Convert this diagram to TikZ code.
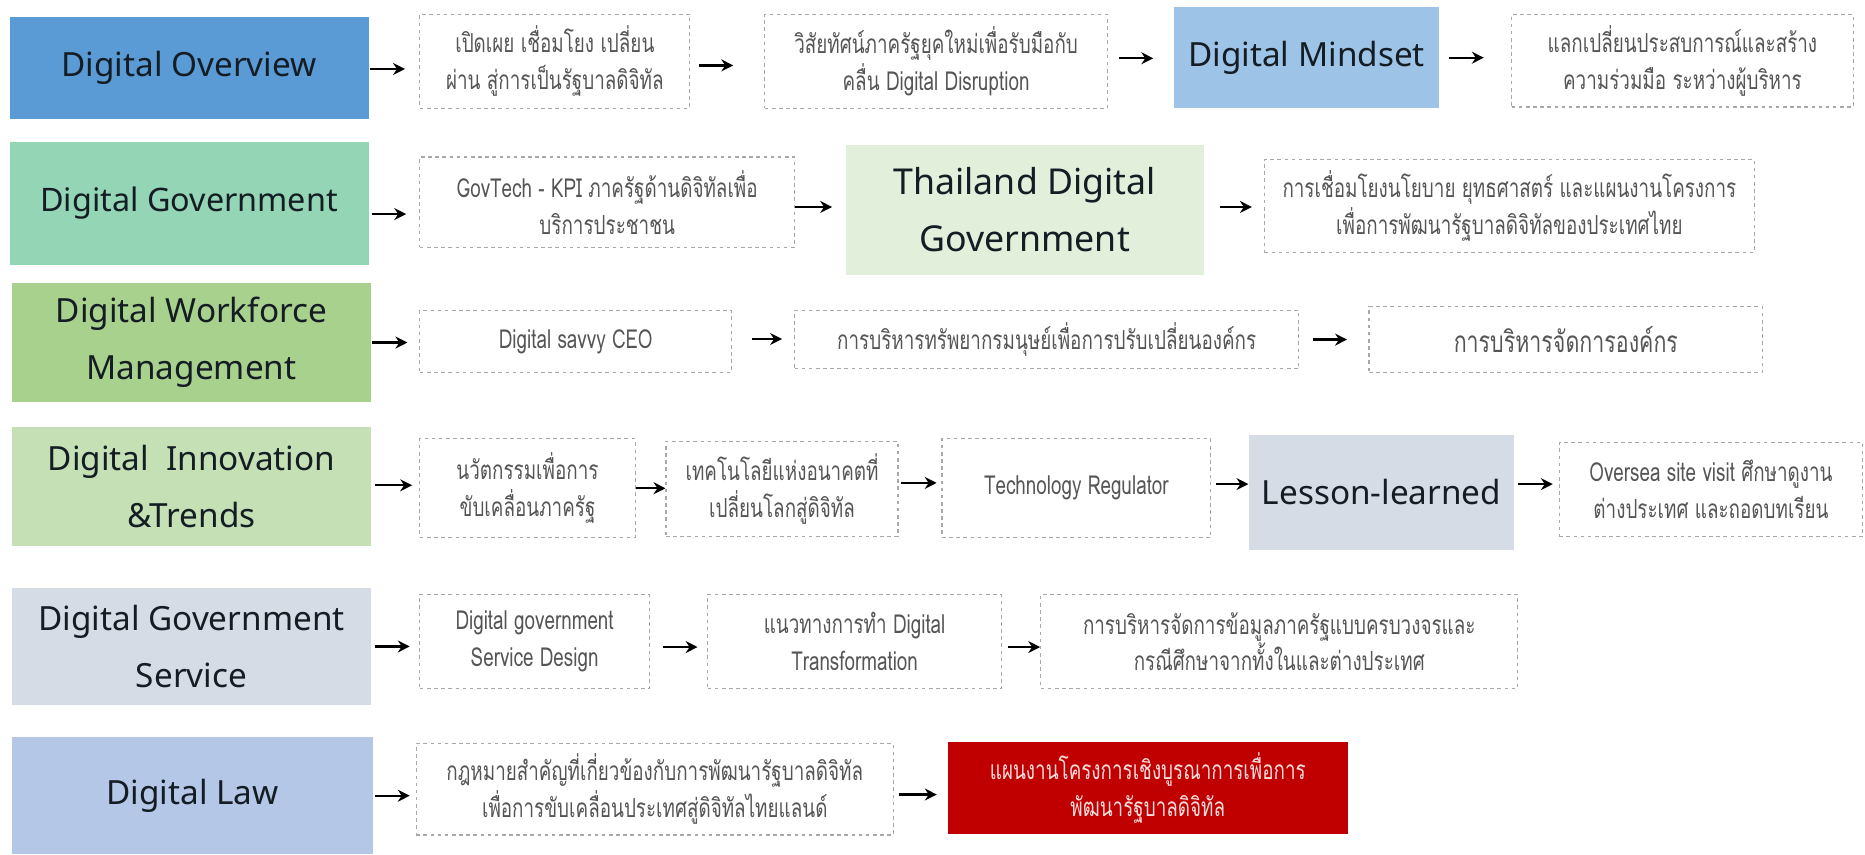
\documentclass[tikz,border=0pt]{standalone}
\usepackage{fontspec}
\setmainfont{Noto Sans}
\newfontfamily\thaifont[Script=Thai,FakeStretch=0.72]{Loma}
\usetikzlibrary{arrows.meta}
\definecolor{ovfill}{HTML}{5B9BD5}
\definecolor{mindfill}{HTML}{9DC3E6}
\definecolor{govfill}{HTML}{93D5B5}
\definecolor{tdgfill}{HTML}{E2EFDA}
\definecolor{wffill}{HTML}{A9D18E}
\definecolor{innfill}{HTML}{C5E0B4}
\definecolor{lesfill}{HTML}{D6DCE5}
\definecolor{lawfill}{HTML}{B4C7E7}
\definecolor{redfill}{HTML}{C00000}
\definecolor{catink}{HTML}{141C24}
\definecolor{dgray}{HTML}{A8A8A8}
\definecolor{tgray}{HTML}{555555}
\definecolor{redink}{HTML}{F8DDDD}
\tikzset{
  cat/.style={rectangle, inner sep=0pt, align=center, text=catink, font=\fontsize{14}{24}\selectfont},
  dbox/.style={rectangle, draw=dgray, line width=0.5pt, dash pattern=on 1.5pt off 1.5pt, inner sep=0pt, align=center, text=tgray, font=\thaifont\fontsize{11}{15.5}\selectfont},
  arr/.style={-{Stealth[length=5pt,width=5pt]}, line width=1pt, black},
}
\newcommand\ar[5]{\draw[arr, shorten <=#3, shorten >=#4] ([yshift=#5]#1.east) -- ([yshift=#5]#1.east -| #2.west);}
\begin{document}
\begin{tikzpicture}[x=0.5pt,y=-0.5pt]
\useasboundingbox (0,0) rectangle (1568,718);
% row 1
\node[cat, fill=ovfill, minimum width=151pt, minimum height=43pt] (ov) at (159,57) {Digital Overview};
\node[dbox, minimum width=113.5pt, minimum height=39.5pt] (a1) at (466.5,51.5) {เปิดเผย เชื่อมโยง เปลี่ยน\\ผ่าน สู่การเป็นรัฐบาลดิจิทัล};
\node[dbox, minimum width=144pt, minimum height=39.5pt] (a2) at (787,51.5) {วิสัยทัศน์ภาครัฐยุคใหม่เพื่อรับมือกับ\\คลื่น Digital Disruption};
\node[cat, fill=mindfill, minimum width=111.5pt, minimum height=42.5pt] (mind) at (1098.5,48.5) {Digital Mindset};
\node[dbox, minimum width=143.5pt, minimum height=39pt] (a3) at (1414.5,51) {แลกเปลี่ยนประสบการณ์และสร้าง\\ความร่วมมือ ระหว่างผู้บริหาร};
% row 2
\node[cat, fill=govfill, minimum width=151pt, minimum height=52pt, font=\fontsize{13.6}{24}\selectfont] (gov) at (159,171) {Digital Government};
\node[dbox, minimum width=157.5pt, minimum height=38pt] (b1) at (510.5,170) {GovTech - KPI ภาครัฐด้านดิจิทัลเพื่อ\\บริการประชาชน};
\node[cat, fill=tdgfill, minimum width=150.5pt, minimum height=54.5pt, font=\fontsize{15}{24}\selectfont] (tdg) at (861.5,176.5) {Thailand Digital\\Government};
\node[dbox, minimum width=206pt, minimum height=39pt] (b2) at (1269,173) {การเชื่อมโยงนโยบาย ยุทธศาสตร์ และแผนงานโครงการ\\เพื่อการพัฒนารัฐบาลดิจิทัลของประเทศไทย};
% row 3
\node[cat, fill=wffill, minimum width=151pt, minimum height=50pt] (wf) at (161,288) {Digital Workforce\\Management};
\node[dbox, minimum width=131pt, minimum height=26pt] (c1) at (484,287) {Digital savvy CEO};
\node[dbox, minimum width=212pt, minimum height=24.5pt] (c2) at (880,285.5) {การบริหารทรัพยากรมนุษย์เพื่อการปรับเปลี่ยนองค์กร};
\node[dbox, minimum width=165.5pt, minimum height=27.5pt, font=\thaifont\fontsize{12.5}{15.5}\selectfont] (c3) at (1316.5,285.5) {การบริหารจัดการองค์กร};
% row 4
\node[cat, fill=innfill, minimum width=151pt, minimum height=50pt] (inn) at (161,409) {Digital\ \ Innovation\\\&Trends};
\node[dbox, minimum width=90.5pt, minimum height=41.5pt] (d1) at (443.5,410.5) {นวัตกรรมเพื่อการ\\ขับเคลื่อนภาครัฐ};
\node[dbox, minimum width=97.5pt, minimum height=40pt] (d2) at (657.5,411) {เทคโนโลยีแห่งอนาคตที่\\เปลี่ยนโลกสู่ดิจิทัล};
\node[dbox, minimum width=113pt, minimum height=41.5pt] (d3) at (905,410.5) {Technology Regulator};
\node[cat, fill=lesfill, minimum width=111.5pt, minimum height=48pt] (les) at (1161.5,414) {Lesson-learned};
\node[dbox, minimum width=127.5pt, minimum height=39.5pt] (d4) at (1438.5,411.5) {Oversea site visit ศึกษาดูงาน\\ต่างประเทศ และถอดบทเรียน};
% row 5
\node[cat, fill=lesfill, minimum width=151pt, minimum height=49.5pt] (svc) at (161,543.5) {Digital Government\\Service};
\node[dbox, minimum width=96.5pt, minimum height=39.5pt] (e1) at (449.5,539.5) {Digital government\\Service Design};
\node[dbox, minimum width=123.5pt, minimum height=39.5pt] (e2) at (718.5,539.5) {แนวทางการทำ Digital\\Transformation};
\node[dbox, minimum width=200.5pt, minimum height=39.5pt] (e3) at (1075.5,539.5) {การบริหารจัดการข้อมูลภาครัฐแบบครบวงจรและ\\กรณีศึกษาจากทั้งในและต่างประเทศ};
% row 6
\node[cat, fill=lawfill, minimum width=152pt, minimum height=49pt] (law) at (162,669) {Digital Law};
\node[dbox, minimum width=200.5pt, minimum height=38.5pt] (f1) at (550.5,663.5) {กฎหมายสำคัญที่เกี่ยวข้องกับการพัฒนารัฐบาลดิจิทัล\\เพื่อการขับเคลื่อนประเทศสู่ดิจิทัลไทยแลนด์};
\node[rectangle, fill=redfill, inner sep=0pt, align=center, text=redink, font=\thaifont\fontsize{11}{15.5}\selectfont, minimum width=168pt, minimum height=38.5pt] (red) at (965,662.5) {แผนงานโครงการเชิงบูรณาการเพื่อการ\\พัฒนารัฐบาลดิจิทัล};
% arrows
\ar{ov}{a1}{0.5pt}{6pt}{-0.5pt}
\ar{a1}{a2}{3.5pt}{13pt}{-1.75pt}
\ar{a2}{mind}{4.5pt}{8.5pt}{1.25pt}
\ar{mind}{a3}{4pt}{11.5pt}{0pt}
\ar{gov}{b1}{1pt}{5.5pt}{-4.5pt}
\ar{b1}{tdg}{0pt}{5.5pt}{-2pt}
\ar{tdg}{b2}{6.5pt}{5pt}{1.25pt}
\ar{wf}{c1}{0pt}{5pt}{0pt}
\ar{c1}{c2}{8.5pt}{5pt}{1pt}
\ar{c2}{c3}{5.5pt}{9pt}{0pt}
\ar{inn}{d1}{1.5pt}{3pt}{0.5pt}
\ar{d1}{d2}{0pt}{0pt}{0pt}
\ar{d2}{d3}{1pt}{2pt}{2.5pt}
\ar{d3}{les}{2pt}{0pt}{1.75pt}
\ar{les}{d4}{1.5pt}{2.5pt}{3.5pt}
\ar{svc}{e1}{1.5pt}{4pt}{0pt}
\ar{e1}{e2}{5.5pt}{4pt}{-2.25pt}
\ar{e2}{e3}{2.5pt}{0pt}{-2.25pt}
\ar{law}{f1}{0.5pt}{2.5pt}{0pt}
\ar{f1}{red}{2pt}{4.5pt}{-2.25pt}
\end{tikzpicture}
\end{document}
